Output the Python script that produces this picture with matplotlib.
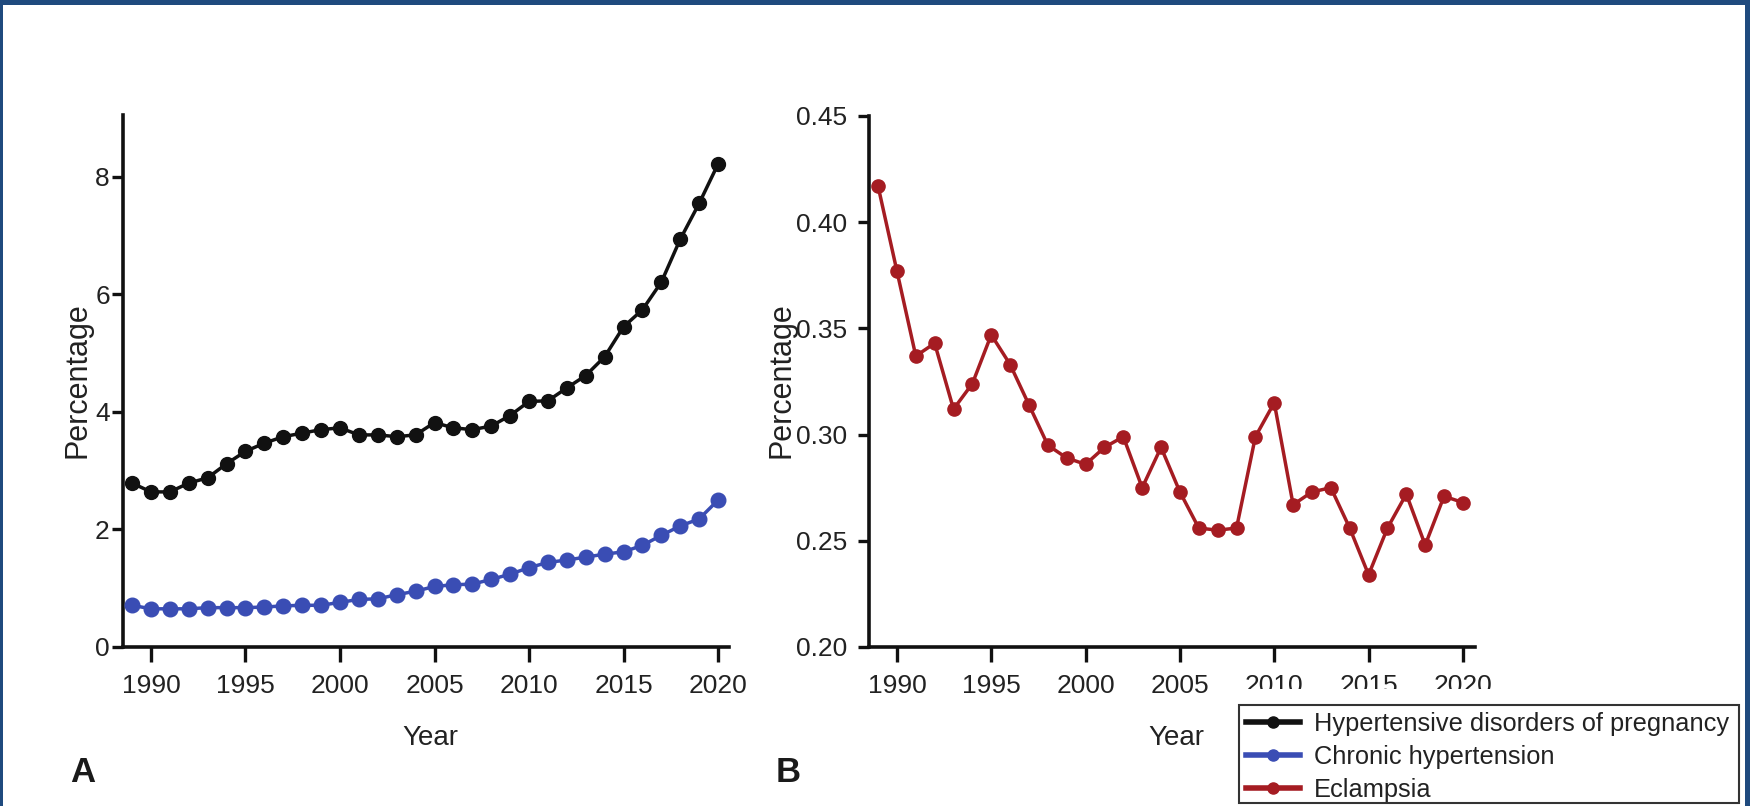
import matplotlib
matplotlib.use("Agg")
import matplotlib.pyplot as plt
from matplotlib.lines import Line2D
from matplotlib.patches import Rectangle

years = list(range(1989, 2021))
hdp = [2.79, 2.64, 2.64, 2.79, 2.88, 3.12, 3.33, 3.47, 3.58, 3.64, 3.70, 3.73,
       3.61, 3.61, 3.58, 3.61, 3.82, 3.73, 3.70, 3.76, 3.94, 4.18, 4.19, 4.41,
       4.62, 4.94, 5.45, 5.74, 6.21, 6.94, 7.55, 8.22]
chronic = [0.71, 0.65, 0.65, 0.65, 0.67, 0.67, 0.67, 0.68, 0.70, 0.71, 0.71, 0.76,
           0.81, 0.82, 0.89, 0.95, 1.03, 1.06, 1.07, 1.15, 1.24, 1.35, 1.44, 1.48,
           1.53, 1.58, 1.62, 1.73, 1.90, 2.06, 2.18, 2.50]
eclampsia = [0.417, 0.377, 0.337, 0.343, 0.312, 0.324, 0.347, 0.333, 0.314, 0.295,
             0.289, 0.286, 0.294, 0.299, 0.275, 0.294, 0.273, 0.256, 0.255, 0.256,
             0.299, 0.315, 0.267, 0.273, 0.275, 0.256, 0.234, 0.256, 0.272, 0.248,
             0.271, 0.268]
xticks = [1990, 1995, 2000, 2005, 2010, 2015, 2020]
yticks_a = [0, 2, 4, 6, 8]
yticks_b = [0.20, 0.25, 0.30, 0.35, 0.40, 0.45]
series_names = ["Hypertensive disorders of pregnancy", "Chronic hypertension", "Eclampsia"]

C_BLACK = "#111111"
C_BLUE = "#3a4db4"
C_RED = "#a51c22"
FONT = ["Liberation Sans", "DejaVu Sans"]

W, H = 1750, 806
fig = plt.figure(figsize=(W / 100, H / 100), dpi=100)
fig.patch.set_facecolor("white")

def fx(px):
    return px / W

def fy(py):
    return 1 - py / H

axA = fig.add_axes([fx(123), fy(647), fx(729) - fx(123), fy(115) - fy(647)])
axB = fig.add_axes([fx(869), fy(647), fx(1475) - fx(869), fy(116) - fy(647)])

def style(ax, ypad):
    for s in ["top", "right"]:
        ax.spines[s].set_visible(False)
    for s in ["left", "bottom"]:
        ax.spines[s].set_linewidth(2.6)
        ax.spines[s].set_color("#111111")
    ax.tick_params(axis="x", length=11, width=2.4, pad=8.5, color="#111111",
                   labelsize=19, labelcolor="#222222")
    ax.tick_params(axis="y", length=8, width=2.4, pad=ypad, color="#111111",
                   labelsize=19, labelcolor="#222222")
    ax.set_xticks(xticks)
    ax.set_xticklabels([str(t) for t in xticks], family=FONT)

axA.plot(years, hdp, color=C_BLACK, lw=2.5, marker="o", ms=10, clip_on=False, zorder=3)
axA.plot(years, chronic, color=C_BLUE, lw=2.5, marker="o", ms=10.5, clip_on=False, zorder=3)
axA.set_xlim(1988.52, 2020.58)
axA.set_ylim(0, 9.055)
axA.set_yticks(yticks_a)
axA.set_yticklabels([str(t) for t in yticks_a], family=FONT)
style(axA, 1.5)

axB.plot(years, eclampsia, color=C_RED, lw=2.5, marker="o", ms=9.5, clip_on=False, zorder=3)
axB.set_xlim(1988.52, 2020.64)
axB.set_ylim(0.20, 0.45)
axB.set_yticks(yticks_b)
axB.set_yticklabels(["%.2f" % t for t in yticks_b], family=FONT)
style(axB, 8)

for ax, lx in [(axA, -0.05), (axB, -0.12)]:
    ax.set_ylabel("Percentage", family=FONT, fontsize=22, color="#222222")
    ax.yaxis.set_label_coords(lx, 0.502)
    ax.set_xlabel("Year", family=FONT, fontsize=20, color="#222222")
    ax.xaxis.set_label_coords(0.507, -0.147)

fig.text(fx(70), fy(782), "A", family=FONT, fontsize=25, fontweight="bold",
         color="#1a1a1a", ha="left", va="baseline")
fig.text(fx(776), fy(782), "B", family=FONT, fontsize=25, fontweight="bold",
         color="#1a1a1a", ha="left", va="baseline")

# white area hiding part of panel B tick labels (as in the source composite)
fig.patches.append(Rectangle((fx(1236), 0), fx(1745) - fx(1236), fy(689),
                             transform=fig.transFigure, facecolor="white",
                             edgecolor="none", zorder=5))
# legend box
fig.patches.append(Rectangle((fx(1239), fy(803)), fx(1739) - fx(1239), fy(705) - fy(803),
                             transform=fig.transFigure, facecolor="white",
                             edgecolor="#333333", linewidth=1.5, zorder=5.5))

handles = [Line2D([], [], color=c, lw=4, marker="o", ms=8)
           for c in [C_BLACK, C_BLUE, C_RED]]
leg = fig.legend(handles, series_names, loc="upper left",
                 bbox_to_anchor=(fx(1239), fy(705)), borderaxespad=0,
                 frameon=False, prop={"family": FONT, "size": 18.3}, handlelength=2.1,
                 handletextpad=0.55, labelspacing=0.34, borderpad=0.29)
leg.set_zorder(6)
for t in leg.get_texts():
    t.set_color("#222222")

# dark blue frame
BLUE_FRAME = "#1f4a7e"
for (x0, y0, x1, y1) in [(0, 0, W, 5), (0, 0, 3, H), (W - 5, 0, W, H)]:
    fig.patches.append(Rectangle((fx(x0), fy(y1)), fx(x1) - fx(x0), fy(y0) - fy(y1),
                                 transform=fig.transFigure, facecolor=BLUE_FRAME,
                                 edgecolor="none", zorder=10))

fig.savefig("out.png", dpi=100)
